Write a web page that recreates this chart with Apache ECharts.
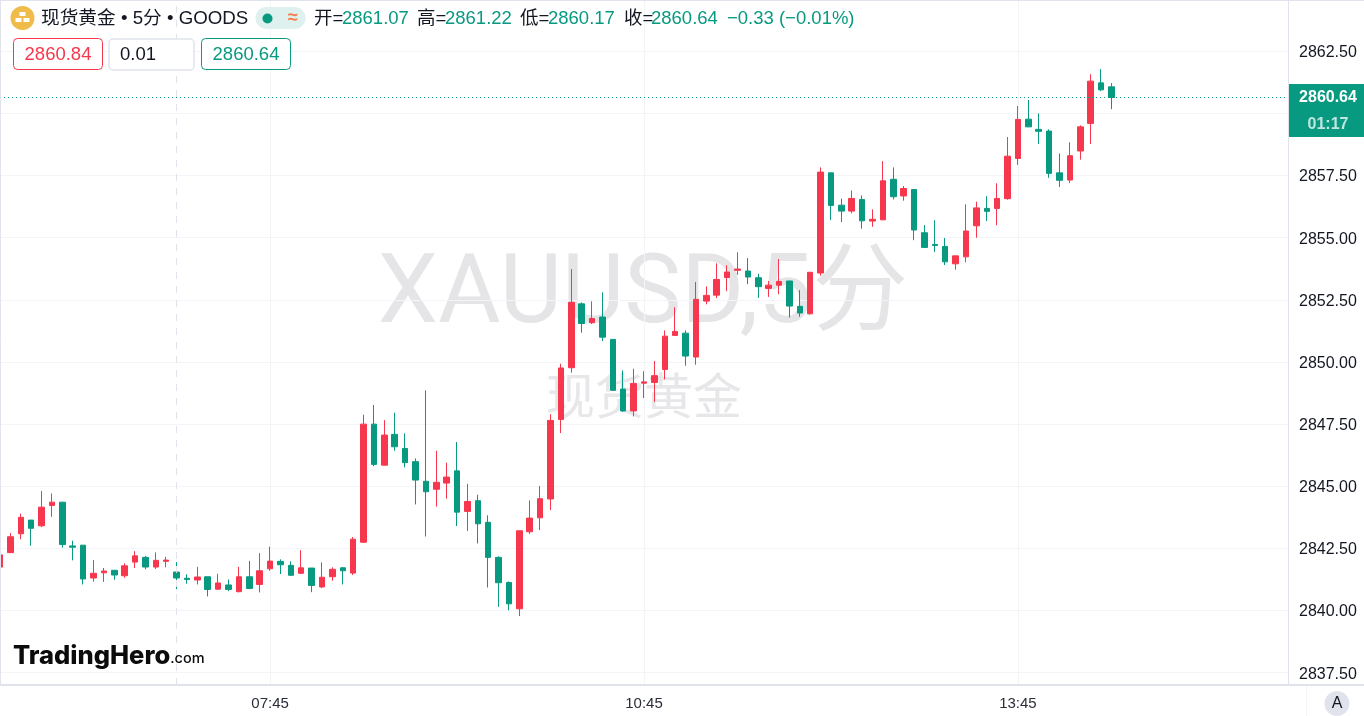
<!DOCTYPE html>
<html>
<head>
<meta charset="utf-8">
<style>html,body{margin:0;padding:0;background:#fff;overflow:hidden}#c{width:1364px;height:716px}</style>
<script src="https://cdn.jsdelivr.net/npm/echarts@6/dist/echarts.min.js"></script>
</head>
<body>
<div id="c"></div>
<script>
const opens = [2841.75,2842.33,2843.09,2843.64,2843.41,2844.23,2844.36,2842.60,2842.63,2841.31,
2841.52,2841.62,2841.40,2841.95,2842.14,2841.75,2841.98,2841.55,2841.30,2841.23,
2841.36,2840.86,2841.03,2840.76,2841.36,2841.05,2841.68,2841.98,2841.82,2841.50,
2841.71,2840.95,2841.36,2841.72,2841.51,2842.75,2847.50,2845.85,2847.09,2846.52,
2845.99,2845.20,2844.88,2845.13,2845.62,2843.99,2844.42,2843.55,2842.14,2841.13,
2840.07,2843.17,2843.73,2844.49,2847.69,2849.77,2852.34,2851.58,2851.81,2850.91,
2848.91,2848.03,2849.15,2849.18,2849.70,2851.07,2851.16,2850.20,2852.45,2852.69,
2853.40,2853.69,2853.66,2853.39,2852.96,2853.09,2853.26,2852.24,2851.94,2853.58,
2857.61,2856.31,2856.07,2856.54,2855.67,2855.72,2857.35,2856.68,2856.94,2855.20,
2854.73,2854.65,2853.95,2854.23,2855.48,2856.18,2856.18,2856.57,2858.19,2859.77,
2859.36,2859.29,2857.61,2857.32,2858.49,2859.60,2861.23,2861.07];
const closes = [2842.24,2842.97,2843.75,2843.31,2844.16,2844.36,2842.66,2842.55,2841.27,2841.50,
2841.59,2841.43,2841.80,2842.20,2841.75,2842.02,2842.03,2841.31,2841.25,2841.35,
2840.85,2841.11,2840.85,2841.36,2840.89,2841.60,2841.99,2841.84,2841.42,2841.72,
2841.01,2841.34,2841.66,2841.60,2842.87,2847.50,2845.88,2847.06,2846.59,2845.95,
2845.25,2844.78,2845.16,2845.37,2843.96,2844.39,2843.49,2842.14,2841.12,2840.27,
2843.21,2843.72,2844.50,2847.65,2849.76,2852.40,2851.55,2851.75,2851.00,2848.86,
2848.03,2849.14,2849.20,2849.45,2851.04,2851.23,2850.24,2852.52,2852.68,2853.32,
2853.62,2853.74,2853.42,2853.03,2853.09,2853.24,2852.25,2851.97,2853.61,2857.64,
2856.30,2856.07,2856.58,2855.68,2855.74,2857.29,2856.65,2856.98,2855.31,2854.61,
2854.69,2854.03,2854.27,2855.27,2856.20,2856.06,2856.58,2858.28,2859.76,2859.46,
2859.28,2857.59,2857.31,2858.30,2859.46,2861.30,2860.95,2860.64];
const lows = [2841.63,2842.33,2842.87,2842.61,2843.36,2843.77,2842.53,2842.02,2841.05,2841.16,
2841.15,2841.24,2841.32,2841.71,2841.66,2841.67,2841.74,2840.86,2841.08,2841.05,
2840.57,2840.84,2840.78,2840.73,2840.86,2840.73,2841.60,2841.47,2841.40,2841.47,
2840.74,2840.90,2841.20,2841.05,2841.43,2842.73,2845.81,2845.84,2846.43,2845.76,
2844.27,2842.98,2844.18,2844.50,2843.40,2843.20,2842.70,2840.93,2840.15,2840.01,
2839.78,2843.08,2843.24,2844.04,2847.14,2849.57,2851.18,2851.53,2850.84,2848.86,
2848.00,2847.81,2848.55,2848.40,2849.30,2851.07,2849.85,2849.89,2852.32,2852.57,
2852.85,2853.51,2853.13,2852.58,2852.62,2852.73,2851.79,2851.82,2851.90,2853.47,
2855.71,2855.63,2855.98,2855.36,2855.44,2855.71,2856.54,2856.49,2854.90,2854.59,
2854.43,2853.90,2853.71,2854.01,2855.00,2855.67,2855.50,2856.53,2857.93,2859.45,
2858.77,2857.41,2857.04,2857.20,2858.14,2858.77,2860.90,2860.17];
const highs = [2843.24,2843.12,2843.90,2843.64,2844.81,2844.71,2844.36,2842.81,2842.63,2842.03,
2841.71,2841.62,2841.90,2842.39,2842.20,2842.34,2842.16,2841.95,2841.46,2841.76,
2841.36,2841.48,2841.25,2841.76,2842.00,2842.31,2842.57,2842.06,2841.98,2842.43,
2841.71,2841.94,2841.74,2841.75,2842.96,2847.88,2848.27,2847.66,2847.96,2847.13,
2846.12,2848.86,2846.43,2845.95,2846.78,2845.10,2844.66,2843.83,2842.18,2841.17,
2843.21,2844.43,2845.01,2847.90,2849.93,2853.74,2852.40,2852.44,2852.80,2850.91,
2849.66,2849.73,2849.63,2850.04,2851.27,2852.20,2851.27,2853.22,2853.04,2853.97,
2853.89,2854.41,2854.18,2853.55,2853.26,2854.14,2853.26,2852.89,2853.61,2857.83,
2857.61,2856.57,2856.90,2856.70,2856.14,2858.08,2857.83,2857.08,2856.94,2855.51,
2855.70,2854.99,2854.27,2856.34,2856.45,2856.67,2857.19,2859.05,2860.30,2860.54,
2860.00,2859.36,2858.39,2858.84,2859.52,2861.58,2861.78,2861.22];
const gridPrices = [2837.5,2840,2842.5,2845,2847.5,2850,2852.5,2855,2857.5,2860,2862.5];
const labelPrices = [2837.5,2840,2842.5,2845,2847.5,2850,2852.5,2855,2857.5,2862.5];
const xTickLabels = ['07:45','10:45','13:45'];
const sessionBreak = '07:00';
const lastPrice = 2860.64;
const bidAsk = ['2860.84','0.01','2860.64'];
const titleText = '现货黄金 • 5分 • GOODS';
const ohlcLabels = ['开=','高=','低=','收='];
const ohlcValues = ['2861.07','2861.22','2860.17','2860.64'];
const changeText = '−0.33 (−0.01%)';
const countdown = '01:17';

const RED='#F7374D', GREEN='#089981', INK='#131722', LINE='#E0E3EB', GRID='#F3F4F8';
const FONT='"Liberation Sans","Noto Sans CJK SC",sans-serif';
const HEAD='18.5px '+FONT;

// 5-minute slots: index 26 is 07:45
const categories = [];
for (let i = 0; i < 125; i++) {
  const m = 5*60 + 35 + i*5;
  categories.push(String(Math.floor(m/60)).padStart(2,'0') + ':' + String(m%60).padStart(2,'0'));
}
const candleData = opens.map((o,i)=>[o,closes[i],lows[i],highs[i]]);

const txt=(x,y,text,fill,font,align)=>({type:'text',x,y,z:20,silent:true,style:{text,fill,font:font||HEAD,textAlign:align||'left',textVerticalAlign:'middle'}});
const rect=(x,y,w,h,fill,stroke,r,lw)=>({type:'rect',z:19,silent:true,shape:{x,y,width:w,height:h,r:r||0},style:{fill:fill||'transparent',stroke:stroke||null,lineWidth:lw||1}});
const seg=(x1,y1,x2,y2,stroke,lw)=>({type:'line',z:18,silent:true,shape:{x1,y1,x2,y2},style:{stroke,lineWidth:lw||1}});

const graphics = [
  // watermark
  {type:'text',z:0,silent:true,x:643,y:298,style:{text:'XAUUSD,5分',fill:'#E5E5E8',font:'400 96px Roboto,"Noto Sans CJK SC",sans-serif',textAlign:'center',textVerticalAlign:'middle'}},
  {type:'text',z:0,silent:true,x:644,y:395,style:{text:'现货黄金',fill:'#E7E7EA',font:'400 49px "Noto Sans CJK SC",sans-serif',textAlign:'center',textVerticalAlign:'middle'}},
  // frame
  seg(0.5,0,0.5,685,LINE,1),
  seg(0,0.5,1364,0.5,LINE,1),
  seg(0,685,1364,685,LINE,2),
  seg(1306.5,686,1306.5,716,'#F3F4F8',1),
  // header
  {type:'circle',z:19,silent:true,shape:{cx:22.5,cy:18,r:12},style:{fill:'#EFBB4A'}},
  rect(19.5,12,6,4,'#fff'),rect(15.5,18,6,4,'#fff'),rect(23.5,18,6,4,'#fff'),
  txt(41,18.5,titleText,INK,'18.7px '+FONT),
  rect(255.5,7,50,22,'#DFF1EE',null,11),
  {type:'circle',z:20,silent:true,shape:{cx:267.5,cy:18.5,r:5},style:{fill:GREEN}},
  txt(293,18.5,'≈','#F57C4C','bold 18px '+FONT,'center'),
  txt(314,18.5,ohlcLabels[0],INK),txt(342,18.5,ohlcValues[0],GREEN),
  txt(417,18.5,ohlcLabels[1],INK),txt(445,18.5,ohlcValues[1],GREEN),
  txt(520,18.5,ohlcLabels[2],INK),txt(548,18.5,ohlcValues[2],GREEN),
  txt(624,18.5,ohlcLabels[3],INK),txt(651,18.5,ohlcValues[3],GREEN),
  txt(727,18.5,changeText,GREEN),
  // bid / spread / ask boxes
  rect(13.5,38.5,89,31,'#fff',RED,4),
  txt(58,55,bidAsk[0],RED,null,'center'),
  rect(109,39,85,31,'#fff',LINE,4,1.5),
  txt(120,54.5,bidAsk[1],INK),
  rect(201.5,38.5,89,31,'#fff',GREEN,4),
  txt(246,55,bidAsk[2],GREEN,null,'center'),
  // last price tag
  rect(1289,84,75,53,GREEN),
  seg(1289,110.5,1364,110.5,'#2FA994',1),
  txt(1328,98,String(lastPrice.toFixed(2)),'#fff','bold 16px '+FONT,'center'),
  txt(1328,125,countdown,'rgba(255,255,255,0.75)','bold 16px '+FONT,'center'),
  // logo
  {type:'text',z:20,silent:true,x:13,y:656,style:{
    text:'{a|TradingHero}{b|.com}',textVerticalAlign:'middle',
    rich:{a:{font:'800 25.5px Inter, '+FONT,fill:'#0B0B0B'},b:{font:'500 14.5px Inter, '+FONT,fill:'#0B0B0B',padding:[6,0,0,0]}}
  }},
  // auto-scale button
  {type:'circle',z:19,silent:true,shape:{cx:1337,cy:703.5,r:12.5},style:{fill:LINE}},
  txt(1337,704,'A',INK,'16px '+FONT,'center')
];

const chart = echarts.init(document.getElementById('c'),null,{renderer:'canvas'});
chart.setOption({
  animation:false,
  backgroundColor:'#fff',
  grid:{left:0,top:0,width:1288,height:685,containLabel:false},
  xAxis:{
    type:'category',data:categories,boundaryGap:false,
    axisLine:{show:false},axisTick:{show:false},
    splitLine:{show:true,interval:(i,v)=>xTickLabels.includes(v),lineStyle:{color:GRID,width:1}},
    axisLabel:{interval:(i,v)=>xTickLabels.includes(v),color:'#2A2E39',fontFamily:FONT,fontSize:15,margin:11}
  },
  yAxis:{
    type:'value',position:'right',min:2837.005,max:2864.564,scale:true,
    axisLine:{show:true,lineStyle:{color:LINE,width:1}},
    axisTick:{show:false,customValues:gridPrices},
    splitLine:{show:true,lineStyle:{color:GRID,width:1}},
    axisLabel:{customValues:labelPrices,formatter:v=>'{p|'+v.toFixed(2)+'}',margin:11,
      rich:{p:{color:INK,fontFamily:FONT,fontSize:16,padding:[3,0,0,0]}}}
  },
  graphic:graphics,
  series:[{
    type:'candlestick',data:candleData,barWidth:6,
    itemStyle:{color:RED,color0:GREEN,borderColor:RED,borderColor0:GREEN,borderWidth:1},
    markLine:{
      silent:true,symbol:'none',animation:false,label:{show:false},
      data:[
        {yAxis:lastPrice,lineStyle:{color:GREEN,type:[1,3],width:1}},
        {xAxis:sessionBreak,lineStyle:{color:LINE,type:[7,7],width:1}}
      ]
    }
  }]
});
</script>
</body>
</html>
